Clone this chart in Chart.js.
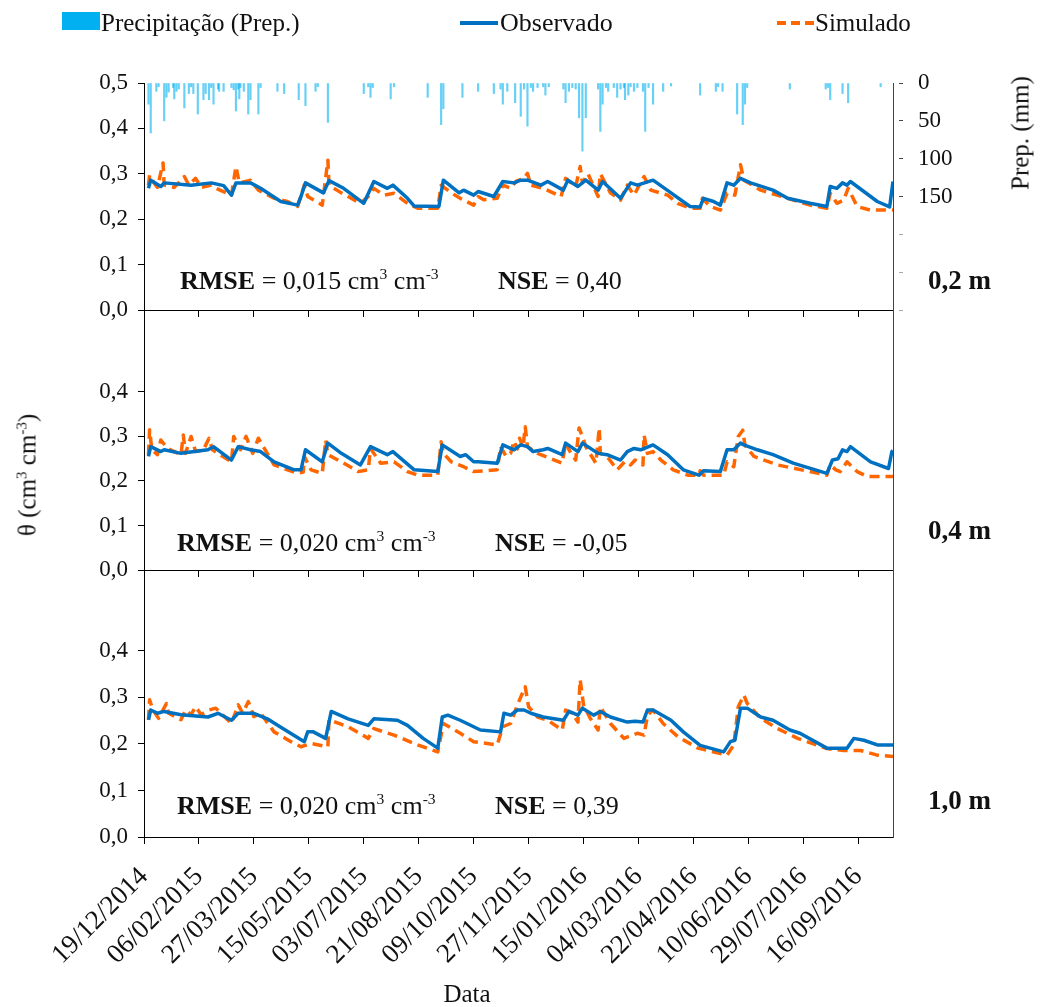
<!DOCTYPE html>
<html><head><meta charset="utf-8">
<script src="https://cdn.jsdelivr.net/npm/chart.js@4.4.0/dist/chart.umd.min.js"></script>
<style>
body{margin:0;background:#fff;}
#wrap{position:relative;width:1040px;height:1007px;font-family:"Liberation Serif","Times New Roman",serif;color:#111;overflow:hidden;}
#wrap canvas{position:absolute;left:0;}
.t{position:absolute;white-space:nowrap;line-height:1;}
.sup{font-size:60%;vertical-align:super;line-height:0;}
</style></head><body>
<div id="wrap">
<canvas id="c1" width="1040" height="330" style="top:0;width:1040px;height:330px"></canvas>
<canvas id="c2" width="1040" height="300" style="top:290px;width:1040px;height:300px"></canvas>
<canvas id="c3" width="1040" height="457" style="top:550px;width:1040px;height:457px"></canvas>

<div class="t" style="left:62px;top:12px;width:38px;height:18px;background:#00B0F0"></div>
<div class="t" style="left:101px;top:10px;font-size:25px">Precipitação (Prep.)</div>
<div class="t" style="left:460px;top:21px;width:38px;height:4px;background:#0070C0"></div>
<div class="t" style="left:500px;top:10px;font-size:26px">Observado</div>
<div class="t" style="left:777px;top:21px;width:38px;height:4px;background:repeating-linear-gradient(90deg,#FF6600 0 9px,transparent 9px 14px)"></div>
<div class="t" style="left:815px;top:10px;font-size:25px">Simulado</div>

<div class="t" style="left:1020px;top:133px;font-size:25px;transform:translate(-50%,-50%) rotate(-90deg)">Prep. (mm)</div>
<div class="t" style="left:27px;top:475px;font-size:25px;transform:translate(-50%,-50%) rotate(-90deg)">θ (cm<span class="sup">3</span> cm<span class="sup">-3</span>)</div>
<div class="t" style="left:467px;top:993px;font-size:25px;transform:translate(-50%,-50%)">Data</div>

<div class="t" style="left:180px;top:281px;font-size:26px;transform:translateY(-50%)"><b>RMSE</b> = 0,015 cm<span class="sup">3</span> cm<span class="sup">-3</span></div>
<div class="t" style="left:498px;top:281px;font-size:26px;transform:translateY(-50%)"><b>NSE</b> = 0,40</div>
<div class="t" style="left:177px;top:543px;font-size:26px;transform:translateY(-50%)"><b>RMSE</b> = 0,020 cm<span class="sup">3</span> cm<span class="sup">-3</span></div>
<div class="t" style="left:495px;top:543px;font-size:26px;transform:translateY(-50%)"><b>NSE</b> = -0,05</div>
<div class="t" style="left:177px;top:806px;font-size:26px;transform:translateY(-50%)"><b>RMSE</b> = 0,020 cm<span class="sup">3</span> cm<span class="sup">-3</span></div>
<div class="t" style="left:495px;top:806px;font-size:26px;transform:translateY(-50%)"><b>NSE</b> = 0,39</div>

<div class="t" style="left:928px;top:280px;font-size:27px;font-weight:bold;transform:translateY(-50%)">0,2 m</div>
<div class="t" style="left:928px;top:530px;font-size:27px;font-weight:bold;transform:translateY(-50%)">0,4 m</div>
<div class="t" style="left:928px;top:800px;font-size:27px;font-weight:bold;transform:translateY(-50%)">1,0 m</div>
</div>
<script>
// ---- data (x = days since 19/12/2014) ----
const tickDays = [0,49,98,147,196,245,294,343,392,441,490,539,588,637];
const tickLabels = ['19/12/2014','06/02/2015','27/03/2015','15/05/2015','03/07/2015','21/08/2015','09/10/2015','27/11/2015','15/01/2016','04/03/2016','22/04/2016','10/06/2016','29/07/2016','16/09/2016'];
const xMax = 668;

const prepDays = [4,6,11,13,18,20,22,26,27,29,31,36,40,42,44,48,53,55,58,60,62,66,67,71,78,80,82,84,85,86,89,93,95,102,104,119,125,138,144,153,155,164,196,200,202,204,220,223,253,265,267,284,298,312,318,320,324,331,336,339,342,345,347,351,356,358,361,374,376,379,382,385,388,391,394,405,407,409,412,414,419,422,425,428,429,432,434,437,440,445,447,450,454,463,470,496,510,512,516,529,534,536,538,576,608,610,612,623,628,657];
const prepMM   = [28,66,11,5,50,19,12,6,21,11,8,33,14,5,14,41,22,14,22,6,28,8,11,11,6,9,37,8,21,6,11,41,22,41,6,11,14,22,30,11,5,52,14,5,19,6,21,5,19,55,34,19,11,14,8,28,11,26,44,8,57,6,11,6,5,16,5,8,26,11,6,8,46,90,46,8,64,28,6,11,6,19,8,6,22,16,5,11,6,11,64,6,28,11,4,16,11,5,11,41,55,28,6,8,8,6,22,14,26,5];

const obs02 = [[4,0.268],[6,0.286],[15,0.272],[18,0.28],[42,0.275],[60,0.28],[71,0.274],[78,0.253],[82,0.28],[95,0.28],[104,0.268],[122,0.239],[137,0.231],[140,0.25],[144,0.28],[160,0.258],[165,0.285],[178,0.268],[196,0.235],[205,0.283],[217,0.268],[222,0.275],[235,0.246],[241,0.229],[263,0.228],[267,0.286],[281,0.258],[285,0.264],[294,0.253],[298,0.261],[312,0.25],[320,0.283],[330,0.28],[336,0.286],[342,0.286],[354,0.275],[360,0.283],[374,0.264],[378,0.286],[387,0.272],[394,0.286],[405,0.264],[409,0.283],[425,0.246],[434,0.28],[440,0.275],[454,0.286],[470,0.258],[487,0.228],[496,0.227],[499,0.246],[508,0.239],[514,0.231],[520,0.28],[526,0.275],[532,0.29],[541,0.28],[561,0.264],[574,0.246],[594,0.235],[609,0.228],[612,0.272],[618,0.268],[623,0.28],[627,0.275],[630,0.283],[648,0.25],[654,0.239],[665,0.227],[668,0.283]];
const sim02 = [[4,0.275],[5,0.297],[9,0.28],[12,0.27],[17,0.324],[18,0.275],[27,0.27],[36,0.294],[40,0.275],[46,0.29],[51,0.27],[60,0.275],[64,0.268],[78,0.253],[82,0.316],[85,0.28],[95,0.286],[102,0.264],[116,0.246],[128,0.239],[137,0.228],[143,0.275],[146,0.25],[159,0.231],[164,0.33],[165,0.275],[176,0.258],[193,0.235],[200,0.25],[205,0.268],[214,0.253],[223,0.257],[235,0.235],[244,0.224],[262,0.224],[265,0.275],[274,0.258],[282,0.246],[294,0.231],[298,0.25],[303,0.243],[315,0.246],[320,0.275],[327,0.268],[332,0.284],[339,0.29],[342,0.301],[345,0.275],[356,0.268],[372,0.25],[376,0.29],[385,0.272],[389,0.316],[391,0.28],[396,0.3],[405,0.25],[407,0.3],[416,0.258],[425,0.242],[431,0.275],[437,0.253],[446,0.294],[452,0.264],[467,0.253],[476,0.235],[487,0.224],[496,0.224],[498,0.246],[505,0.228],[514,0.22],[520,0.257],[527,0.253],[532,0.32],[535,0.286],[550,0.264],[574,0.246],[594,0.231],[609,0.224],[612,0.257],[618,0.235],[624,0.242],[628,0.268],[636,0.228],[648,0.22],[668,0.22]];

const obs04 = [[4,0.255],[6,0.277],[15,0.266],[18,0.27],[33,0.262],[57,0.27],[62,0.277],[78,0.247],[84,0.277],[95,0.27],[104,0.266],[116,0.243],[134,0.225],[140,0.225],[144,0.27],[159,0.243],[164,0.285],[176,0.262],[193,0.236],[202,0.277],[217,0.259],[222,0.266],[241,0.225],[262,0.221],[266,0.281],[282,0.255],[287,0.259],[294,0.243],[298,0.243],[315,0.24],[320,0.281],[330,0.27],[336,0.281],[342,0.277],[347,0.266],[356,0.27],[360,0.273],[373,0.259],[376,0.285],[387,0.266],[391,0.285],[405,0.262],[413,0.259],[425,0.247],[431,0.266],[437,0.273],[443,0.27],[454,0.281],[467,0.259],[481,0.225],[495,0.213],[499,0.223],[514,0.221],[520,0.27],[526,0.27],[532,0.285],[535,0.281],[547,0.27],[561,0.259],[579,0.24],[609,0.217],[614,0.247],[619,0.25],[623,0.27],[627,0.266],[630,0.277],[648,0.243],[664,0.228],[667,0.266],[668,0.268]];
const sim04 = [[4,0.259],[5,0.315],[7,0.27],[12,0.259],[15,0.292],[21,0.273],[33,0.259],[35,0.303],[37,0.262],[42,0.3],[46,0.266],[53,0.27],[58,0.296],[61,0.27],[78,0.243],[80,0.3],[86,0.27],[91,0.3],[97,0.262],[102,0.296],[116,0.236],[137,0.217],[142,0.22],[143,0.255],[149,0.225],[159,0.217],[162,0.292],[164,0.259],[176,0.243],[191,0.221],[200,0.225],[202,0.273],[211,0.24],[223,0.243],[235,0.221],[244,0.213],[262,0.213],[265,0.288],[267,0.262],[274,0.243],[285,0.232],[294,0.221],[315,0.225],[318,0.277],[323,0.255],[327,0.262],[330,0.29],[333,0.272],[335,0.296],[338,0.275],[340,0.322],[342,0.277],[351,0.262],[363,0.25],[373,0.24],[376,0.285],[380,0.266],[385,0.247],[388,0.319],[391,0.3],[394,0.277],[403,0.24],[406,0.319],[407,0.262],[413,0.255],[422,0.225],[429,0.244],[434,0.236],[438,0.247],[445,0.236],[446,0.303],[449,0.262],[454,0.266],[461,0.247],[472,0.225],[485,0.213],[495,0.213],[496,0.223],[499,0.213],[517,0.213],[520,0.243],[526,0.232],[530,0.3],[534,0.314],[536,0.28],[544,0.255],[565,0.236],[594,0.221],[609,0.213],[612,0.236],[617,0.225],[621,0.221],[627,0.243],[636,0.221],[645,0.21],[668,0.21]];

const obs10 = [[4,0.252],[6,0.273],[12,0.266],[18,0.27],[33,0.263],[57,0.258],[66,0.266],[78,0.251],[84,0.266],[98,0.266],[110,0.254],[122,0.236],[143,0.205],[146,0.226],[151,0.226],[162,0.212],[167,0.27],[182,0.254],[200,0.24],[205,0.254],[226,0.251],[235,0.24],[249,0.212],[262,0.191],[266,0.258],[271,0.262],[282,0.251],[294,0.237],[300,0.23],[318,0.226],[321,0.266],[327,0.262],[333,0.273],[339,0.273],[345,0.266],[356,0.258],[374,0.251],[379,0.27],[387,0.262],[391,0.277],[401,0.262],[407,0.27],[416,0.258],[431,0.247],[438,0.249],[445,0.247],[449,0.273],[454,0.273],[470,0.251],[481,0.226],[496,0.197],[517,0.183],[523,0.205],[527,0.208],[532,0.277],[538,0.277],[550,0.258],[561,0.251],[576,0.23],[585,0.223],[609,0.191],[627,0.191],[633,0.212],[642,0.208],[654,0.198],[668,0.198]];
const sim10 = [[4,0.252],[5,0.295],[8,0.273],[13,0.255],[20,0.287],[22,0.266],[33,0.252],[37,0.273],[42,0.263],[46,0.28],[51,0.263],[58,0.273],[64,0.277],[78,0.244],[84,0.284],[88,0.266],[93,0.291],[98,0.259],[104,0.266],[116,0.226],[131,0.205],[140,0.194],[149,0.201],[164,0.194],[165,0.252],[182,0.237],[200,0.212],[205,0.233],[223,0.219],[244,0.198],[262,0.183],[267,0.244],[282,0.223],[294,0.205],[315,0.198],[320,0.237],[327,0.244],[333,0.284],[340,0.323],[343,0.28],[351,0.258],[360,0.251],[373,0.23],[376,0.273],[382,0.266],[387,0.247],[389,0.338],[392,0.284],[398,0.255],[405,0.23],[407,0.28],[416,0.244],[428,0.212],[440,0.223],[446,0.219],[449,0.262],[454,0.273],[463,0.244],[476,0.216],[494,0.191],[520,0.176],[526,0.198],[530,0.28],[535,0.305],[538,0.287],[550,0.255],[565,0.233],[583,0.212],[609,0.19],[624,0.186],[639,0.186],[654,0.176],[668,0.173]];

// ---- styling ----
const FONT = '"Liberation Serif","Times New Roman",serif';
const BLUE = '#0070C0', ORANGE = '#FF6600', PREP = 'rgba(0,176,240,0.6)', TXT = '#111';

function lineDs(label, pts, color, dash) {
  return { type:'line', label, data: pts.map(p => ({x:p[0], y:p[1]})), borderColor: color, backgroundColor: color,
    borderWidth: 3.5, borderDash: dash, pointRadius: 0, tension: 0, yAxisID: 'y', order: 1,
    borderCapStyle: 'butt', borderJoinStyle: 'round' };
}
function xScale(showLabels, height) {
  return {
    type:'linear', position:'bottom', min:0, max:xMax, offset:false,
    afterBuildTicks: s => { s.ticks = tickDays.map(v => ({value:v})); },
    afterFit: s => { s.height = height; s.paddingLeft = 0; s.paddingRight = 0; s.paddingTop = 0; s.paddingBottom = 0; },
    grid: { offset:false, drawOnChartArea:false, drawTicks:true, tickLength:7, color:'#000', tickColor:'#000' },
    border: { display:true, color:'#000', width:1 },
    ticks: { display: showLabels, autoSkip:false, maxRotation:45, minRotation:45, padding:17, color:TXT,
      font:{family:FONT, size:27}, callback: v => { const i = tickDays.indexOf(v); return i >= 0 ? tickLabels[i] : ''; } }
  };
}
function yLeft(max, ticksArr) {
  return { type:'linear', position:'left', min:0, max,
    afterBuildTicks: s => { s.ticks = ticksArr.map(v => ({value:v})); },
    afterFit: s => { s.width = 144; s.paddingTop = 0; s.paddingBottom = 0; s.paddingLeft = 0; s.paddingRight = 0; },
    grid: { drawOnChartArea:false, tickLength:6, color:'#000', tickColor:'#000' },
    border: { display:true, color:'#000' },
    ticks: { padding:10, color:TXT, font:{family:FONT, size:23}, callback: v => v.toFixed(1).replace('.', ',') } };
}
function yRightDummy() {
  return { type:'linear', position:'right', min:0, max:1,
    afterFit: s => { s.width = 147; s.paddingTop = 0; s.paddingBottom = 0; },
    grid: { drawOnChartArea:false, drawTicks:false },
    border: { display:true, color:'#444' },
    ticks: { display:false } };
}
const baseOpts = (padTop) => ({
  responsive:false, animation:false, devicePixelRatio:1,
  layout:{ padding:{ top:padTop, left:0, right:0, bottom:0 } },
  plugins:{ legend:{display:false}, tooltip:{enabled:false} }
});

// top chart 0.2 m
new Chart(document.getElementById('c1'), {
  type:'line',
  data:{ datasets:[
    { type:'bar', label:'Precipitação (Prep.)', data: prepDays.map((d,i) => ({x:d, y:prepMM[i]})),
      backgroundColor: PREP, barThickness: 1.5, yAxisID:'yP', order:2, grouped:false },
    lineDs('Observado', obs02, BLUE, []),
    lineDs('Simulado', sim02, ORANGE, [10,6])
  ]},
  options: Object.assign(baseOpts(83), { scales:{
    x: xScale(false, 20),
    y: yLeft(0.5, [0,0.1,0.2,0.3,0.4,0.5]),
    yP: { type:'linear', position:'right', min:0, max:300, reverse:true,
      afterBuildTicks: s => { s.ticks = [0,50,100,150,200,250,300].map(v => ({value:v})); },
      afterFit: s => { s.width = 147; s.paddingTop = 0; s.paddingBottom = 0; },
      grid: { drawOnChartArea:false, tickLength:10, tickBorderDash:[0,5,5,100],
        tickColor: c => (c.tick && c.tick.value <= 150) ? '#444' : '#aaa' },
      border: { display:true, color:'#444' },
      ticks: { padding:15, color:TXT, font:{family:FONT, size:23}, callback: v => v <= 150 ? String(v) : '' } }
  }})
});

// middle chart 0.4 m
new Chart(document.getElementById('c2'), {
  type:'line',
  data:{ datasets:[ lineDs('Observado', obs04, BLUE, []), lineDs('Simulado', sim04, ORANGE, [10,6]) ]},
  options: Object.assign(baseOpts(20), { scales:{
    x: xScale(false, 20),
    y: yLeft(0.584, [0,0.1,0.2,0.3,0.4]),
    yR: yRightDummy()
  }})
});

// bottom chart 1.0 m
new Chart(document.getElementById('c3'), {
  type:'line',
  data:{ datasets:[ lineDs('Observado', obs10, BLUE, []), lineDs('Simulado', sim10, ORANGE, [10,6]) ]},
  options: Object.assign(baseOpts(20), { scales:{
    x: xScale(true, 170),
    y: yLeft(0.574, [0,0.1,0.2,0.3,0.4]),
    yR: yRightDummy()
  }})
});
</script>
</body></html>
